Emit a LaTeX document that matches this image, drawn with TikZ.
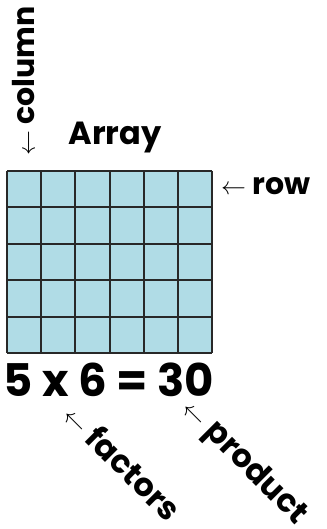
\documentclass[tikz,border=0pt]{standalone}
\usepackage{fontspec}
\setmainfont{Poppins}
\begin{document}
\begin{tikzpicture}[x=1pt, y=-1pt, >=stealth]
    % Màu sắc
    \definecolor{cellBlue}{RGB}{176, 220, 230}
    \definecolor{gridLine}{RGB}{40, 40, 40}
    \tikzset{
        label/.style={font=\fontsize{32}{36}\selectfont\bfseries, inner sep=0pt},
        side/.style={font=\fontsize{30}{34}\selectfont\bfseries, inner sep=0pt},
        eqn/.style={font=\fontsize{45}{50}\selectfont\bfseries, inner sep=0pt}
    }
    \useasboundingbox (0,0) rectangle (326,529);

    % 1. Mảng 5 x 6
    \fill[cellBlue] (7,171) rectangle (212,353);
    \foreach \x in {7, 41, 75, 110, 144, 178, 212} {
        \draw[gridLine, line width=1.5pt] (\x,171) -- (\x,353);
    }
    \foreach \y in {171, 207, 244, 280, 317, 353} {
        \draw[gridLine, line width=1.5pt] (7,\y) -- (212,\y);
    }

    % 2. Nhãn
    \node[label] (title) at (115,138) {Array};
    \node[side, rotate=90, anchor=west] (column) at (24,156) {$\leftarrow$ column};
    \node[side, anchor=west] (row) at (221,186) {$\leftarrow$ row};

    % 3. Phép nhân
    \node[eqn] (eq) at (109,380) {5 x 6 = 30};
    \node[label, rotate=-45, anchor=west] (factors) at (70,409) {$\leftarrow$ factors};
    \node[label, rotate=-45, anchor=west] (product) at (186,405) {$\leftarrow$ product};
\end{tikzpicture}
\end{document}
